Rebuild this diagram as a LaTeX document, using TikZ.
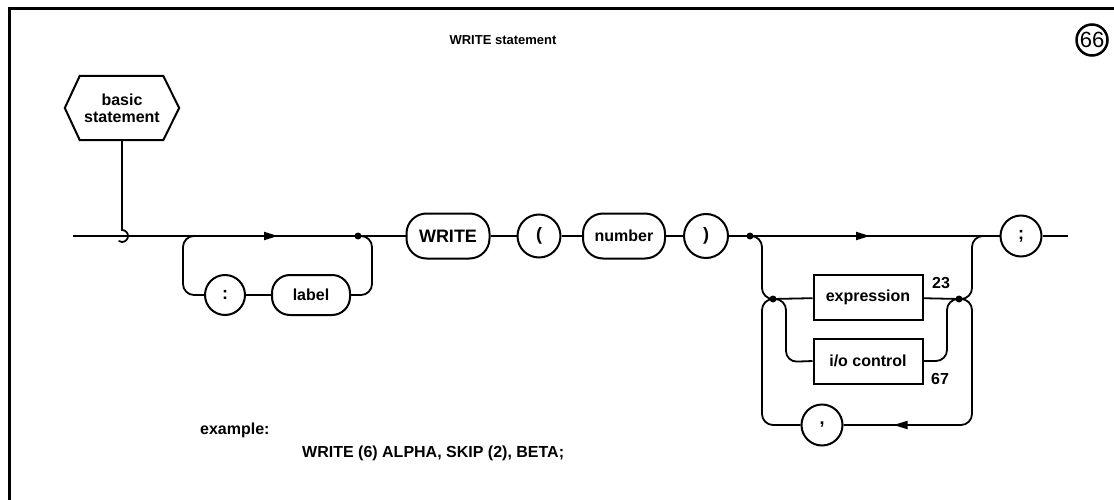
\documentclass[tikz,border=0pt]{standalone}
\usepackage{fontspec}
\setmainfont{Liberation Sans}
\usetikzlibrary{arrows.meta,decorations.markings}
\begin{document}
\begin{tikzpicture}[x=1pt,y=-1pt,
  link/.style={line width=1.8pt, rounded corners=11pt},
  pill/.style={draw, line width=2pt, rounded corners=20pt, minimum height=45pt, inner sep=0pt, font=\fontsize{16}{18}\selectfont\bfseries},
  rnd/.style={draw, circle, line width=2pt, minimum size=42pt, inner sep=0pt, font=\fontsize{18}{20}\selectfont\bfseries},
  rectbox/.style={draw, line width=2pt, minimum width=109pt, minimum height=45pt, inner sep=0pt, font=\fontsize{16}{18}\selectfont\bfseries},
  txt/.style={inner sep=0pt, font=\fontsize{16}{18}\selectfont\bfseries},
  fwd/.style={postaction={decorate}, decoration={markings, mark=at position #1 with {\arrow{Triangle[length=14pt,width=8pt]}}}},
]
\useasboundingbox (0,0) rectangle (1114,500);
% frame
\draw[line width=3pt] (1114,9) -- (9,9) -- (9,500);
% title and number
\node[inner sep=0pt, font=\fontsize{13}{15}\selectfont\bfseries] (title) at (503,40) {WRITE statement};
\node[draw, circle, line width=2.5pt, minimum size=31pt, inner sep=0pt, font=\fontsize{22}{24}\selectfont] (n66) at (1092,40) {66};
% hexagon
\node[txt, minimum width=114pt, minimum height=64pt, align=center] (bs) at (122,108) {basic\\[-1pt]statement};
\draw[line width=2pt] (bs.west) -- ([xshift=15pt]bs.north west) -- ([xshift=-16pt]bs.north east) -- (bs.east) -- ([xshift=-16pt]bs.south east) -- ([xshift=15pt]bs.south west) -- cycle;
% coordinates
\coordinate (start) at (73,236);
\coordinate (hook) at (122,230);
\coordinate (lA) at (195,236);
\coordinate (j1) at (358,236);
\coordinate (j2) at (750,236);
\coordinate (j3) at (773,299);
\coordinate (j4) at (959,299);
\coordinate (fin) at (1068,236);
% nodes
\node[rnd, minimum size=40pt] (colon) at (225,295) {:};
\node[pill, minimum width=78pt, minimum height=40pt, rounded corners=18pt] (lbl) at (311,295) {label};
\node[pill, minimum width=83pt, font=\fontsize{18}{20}\selectfont\bfseries] (write) at (448,236) {WRITE};
\node[rnd, minimum size=43pt] (lp) at (539,236) {(};
\node[pill, minimum width=82pt] (num) at (624,236) {number};
\node[rnd, minimum size=44pt] (rp) at (706,236) {)};
\node[rectbox] (expr) at (868,297) {expression};
\node[rectbox] (ioc) at (868,361) {i/o control};
\node[rnd, minimum size=41pt] (comma) at (822,425) {,};
\node[rnd, minimum size=41pt] (semi) at (1021,236) {;};
\node[txt] (n23) at (941,283) {23};
\node[txt] (n67) at (940,379) {67};
% entry
\draw[line width=1.8pt] (bs.south) -- (hook) arc[start angle=90, end angle=-125, radius=6pt];
\draw[link, fwd=205pt] (start) -- (j1);
% label option
\draw[link] (lA) -- (183,236) |- (colon.west);
\draw[link] (colon) -- (lbl);
\draw[link] (lbl.east) -| (372,236) -- (j1);
% main
\draw[link] (j1) -- (write);
\draw[link] (write) -- (lp);
\draw[link] (lp) -- (num);
\draw[link] (num) -- (rp);
\draw[link] (rp) -- (j2);
\draw[link, fwd=120pt] (j2) -- (semi);
\draw[link] (semi) -- (fin);
% list
\draw[link] (j2) -| (762,299) -- (j3);
\draw[link] (j3) -- (expr);
\draw[link] (j3) -| (786,362) -- (ioc.west);
\draw[link] (expr) -- (j4);
\draw[link] (ioc.east) -| (947,299) -- (j4);
\draw[link] (j4) -| (972,236) -- (semi.west);
\draw[link, fwd=-50pt] (j4) -| (972,425) -- (comma.east);
\draw[link] (comma.west) -| (762,299) -- (j3);
% junction dots
\foreach \j in {j1,j2,j3,j4} \fill (\j) circle[radius=3.5pt];
% example
\node[txt, anchor=base west] (ex) at (200,434) {example:};
\node[txt, anchor=base west] (exw) at (302,457) {WRITE (6) ALPHA, SKIP (2), BETA;};
\end{tikzpicture}
\end{document}
